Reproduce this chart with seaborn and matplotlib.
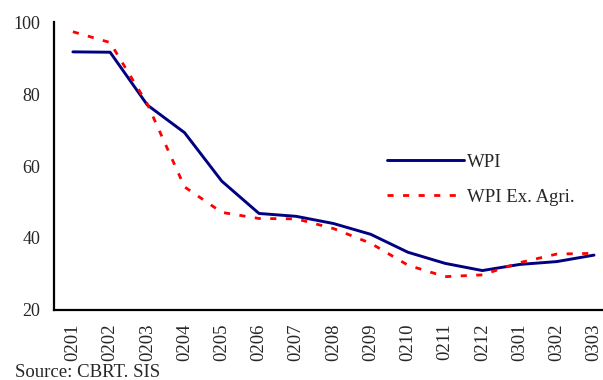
import matplotlib
matplotlib.use("Agg")
import matplotlib.pyplot as plt
import seaborn as sns
import pandas as pd
import numpy as np

# Monthly periods (YYMM) and annual inflation series
periods = ["0201", "0202", "0203", "0204", "0205", "0206", "0207", "0208",
           "0209", "0210", "0211", "0212", "0301", "0302", "0303"]
wpi = [91.8, 91.7, 77.0, 69.3, 55.8, 46.8, 46.0, 44.0, 41.0, 36.0, 32.9, 30.9,
       32.6, 33.4, 35.2]
wpi_ex_agri = [97.4, 94.4, 77.3, 54.2, 47.1, 45.4, 45.3, 42.6, 38.5, 32.4, 29.2,
               29.7, 33.1, 35.5, 35.7]
y_ticks = [20, 40, 60, 80, 100]
source_note = "Source: CBRT. SIS"

sns.set_style("white")
plt.rcParams["font.family"] = ["Liberation Serif", "DejaVu Serif"]

df = pd.DataFrame({"pos": np.arange(len(periods)), "WPI": wpi,
                   "WPI Ex. Agri.": wpi_ex_agri})

fig = plt.figure(figsize=(6.03, 3.80), dpi=100)
ax = fig.add_axes([0.090, 0.185, 0.926, 0.756])

sns.lineplot(data=df, x="pos", y="WPI", ax=ax, color="#000080",
             linewidth=2.1, label="WPI")
sns.lineplot(data=df, x="pos", y="WPI Ex. Agri.", ax=ax, color="#ff0000",
             linewidth=2.0, label="WPI Ex. Agri.", dashes=False)
ax.lines[1].set_dashes([2.2, 3.4])

ax.set_xlim(-0.5, len(periods) - 0.5)
ax.set_ylim(20, 100)
ax.set_yticks(y_ticks)
ax.set_yticklabels([str(v) for v in y_ticks], fontsize=13)

# category labels at centers, tick marks on boundaries
ax.set_xticks(np.arange(len(periods)))
ax.set_xticklabels(periods, rotation=90, fontsize=13.5)
ax.set_xticks(np.arange(len(periods)) - 0.5, minor=True)
ax.tick_params(axis="x", which="major", length=0, pad=10)
ax.tick_params(axis="x", which="minor", length=5, width=1.4, direction="out",
               color="black")
ax.tick_params(axis="y", which="major", length=5.5, width=1.4,
               direction="out", color="black", pad=4.5)
ax.set_xlabel("")
ax.set_ylabel("")

for side in ["top", "right"]:
    ax.spines[side].set_visible(False)
for side in ["left", "bottom"]:
    ax.spines[side].set_color("black")
    ax.spines[side].set_linewidth(1.6)

ax.legend(loc="center left", bbox_to_anchor=(0.642, 0.527),
          bbox_transform=fig.transFigure, frameon=False, fontsize=13.5,
          handlelength=4.1, handletextpad=0.15, labelspacing=0.95,
          borderpad=0, borderaxespad=0)

fig.text(0.025, 0.008, source_note, fontsize=13.5, ha="left", va="baseline")

fig.savefig("out.png", dpi=100)
